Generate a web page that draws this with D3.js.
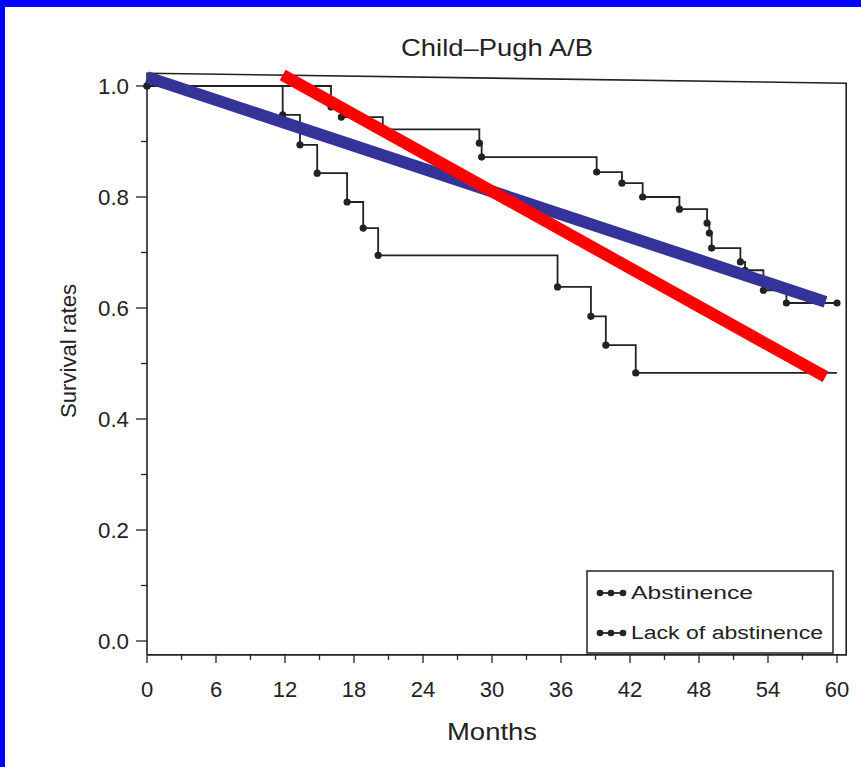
<!doctype html>
<html>
<head>
  <script src="https://d3js.org/d3.v7.min.js"></script>
  <style>
    body { margin: 0; background: #fff; }
    text { font-family: "Liberation Sans", Arial, sans-serif; fill: #222; }
  </style>
</head>
<body>
<script>

  // tick labels
  var monthTicks = [0, 6, 12, 18, 24, 30, 36, 42, 48, 54, 60];
  var rateTicks = [0, 0.2, 0.4, 0.6, 0.8, 1.0];

  // Abstinence (upper curve)
  var abstMonths = [0, 16.0, 16.9, 20.5, 28.9, 29.1, 39.1, 41.3, 43.1, 46.3, 48.7, 48.9, 49.1, 51.6, 52.0, 53.6, 55.6, 60];
  var abstRates  = [1.0, 0.962, 0.944, 0.922, 0.897, 0.872, 0.845, 0.825, 0.800, 0.778, 0.753, 0.735, 0.708, 0.683, 0.668, 0.632, 0.609, 0.609];

  // Lack of abstinence (lower curve)
  var lackMonths = [0, 11.8, 13.3, 14.8, 17.4, 18.8, 20.1, 35.7, 38.6, 39.9, 42.5, 60];
  var lackRates  = [1.0, 0.948, 0.894, 0.843, 0.791, 0.744, 0.695, 0.638, 0.585, 0.533, 0.483, 0.483];

  var legendLabels = ["Abstinence", "Lack of abstinence"];

  // hand drawn lines over the chart
  var blueLine = [[0, 1.016], [59.0, 0.611]];
  var redLine = [[11.8, 1.02], [59.0, 0.476]];

  var width = 861, height = 767;

  var svg = d3.select("body")
      .append("svg")
      .attr("width", width)
      .attr("height", height);

  // blue frame (left and top)
  svg.append("rect").attr("x", 0).attr("y", 0).attr("width", width).attr("height", 7).attr("fill", "#0000ff");
  svg.append("rect").attr("x", 0).attr("y", 0).attr("width", 5).attr("height", height).attr("fill", "#0000ff");

  var x = d3.scaleLinear().domain([0, 60]).range([147, 837]);
  var y = d3.scaleLinear().domain([0, 1]).range([641, 86]);

  var ink = "#222";

  // plot frame, the scan is a bit tilted so the top edge slopes
  var frame = [[0, -0.025], [0, 1.023], [60.8, 1.005], [60.8, -0.025], [0, -0.025]];
  svg.append("path")
      .attr("d", d3.line().x(function (d) { return x(d[0]); }).y(function (d) { return y(d[1]); })(frame))
      .attr("fill", "none")
      .attr("stroke", ink)
      .attr("stroke-width", 1.6);

  // y axis ticks
  var yMinor = d3.range(0, 1.01, 0.1);
  svg.selectAll(".ytick")
      .data(yMinor)
      .enter()
      .append("line")
      .attr("x1", function (d, i) { return x(0) - (i % 2 === 0 ? 11 : 6); })
      .attr("x2", x(0))
      .attr("y1", function (d) { return y(d); })
      .attr("y2", function (d) { return y(d); })
      .attr("stroke", ink)
      .attr("stroke-width", 1.3);

  svg.selectAll(".ylab")
      .data(rateTicks)
      .enter()
      .append("text")
      .attr("x", x(0) - 18)
      .attr("y", function (d) { return y(d); })
      .attr("dy", "0.36em")
      .attr("text-anchor", "end")
      .attr("font-size", 22)
      .attr("textLength", 31)
      .attr("lengthAdjust", "spacingAndGlyphs")
      .text(function (d) { return d.toFixed(1); });

  // x axis ticks every 3 months
  var bottom = y(-0.025);
  var xMinor = d3.range(0, 61, 3);
  svg.selectAll(".xtick")
      .data(xMinor)
      .enter()
      .append("line")
      .attr("x1", function (d) { return x(d); })
      .attr("x2", function (d) { return x(d); })
      .attr("y1", bottom)
      .attr("y2", function (d) { return bottom + (d % 6 === 0 ? 8 : 5); })
      .attr("stroke", ink)
      .attr("stroke-width", 1.3);

  svg.selectAll(".xlab")
      .data(monthTicks)
      .enter()
      .append("text")
      .attr("x", function (d) { return x(d); })
      .attr("y", 697)
      .attr("text-anchor", "middle")
      .attr("font-size", 22)
      .text(function (d) { return d; });

  // titles
  svg.append("text")
      .attr("x", 497).attr("y", 56)
      .attr("text-anchor", "middle")
      .attr("font-size", 24)
      .attr("textLength", 192)
      .attr("lengthAdjust", "spacingAndGlyphs")
      .text("Child\u2013Pugh A/B");

  svg.append("text")
      .attr("x", 492).attr("y", 740)
      .attr("text-anchor", "middle")
      .attr("font-size", 24)
      .attr("textLength", 90)
      .attr("lengthAdjust", "spacingAndGlyphs")
      .text("Months");

  svg.append("text")
      .attr("transform", "translate(76,351) rotate(-90)")
      .attr("text-anchor", "middle")
      .attr("font-size", 22)
      .attr("textLength", 134)
      .attr("lengthAdjust", "spacingAndGlyphs")
      .text("Survival rates");

  // survival curves
  var step = d3.line()
      .x(function (d) { return x(d[0]); })
      .y(function (d) { return y(d[1]); })
      .curve(d3.curveStepAfter);

  var series = [
    { pts: d3.zip(abstMonths, abstRates), dots: d3.zip(abstMonths, abstRates) },
    { pts: d3.zip(lackMonths, lackRates), dots: d3.zip(lackMonths, lackRates).slice(0, -1) }
  ];

  series.forEach(function (s) {
    svg.append("path")
        .attr("d", step(s.pts))
        .attr("fill", "none")
        .attr("stroke", ink)
        .attr("stroke-width", 1.8);

    svg.selectAll(null)
        .data(s.dots)
        .enter()
        .append("circle")
        .attr("cx", function (d) { return x(d[0]); })
        .attr("cy", function (d) { return y(d[1]); })
        .attr("r", 3.6)
        .attr("fill", ink);
  });

  // legend
  var lg = svg.append("g").attr("transform", "translate(587,571)");
  lg.append("rect")
      .attr("width", 246).attr("height", 82)
      .attr("fill", "#fff")
      .attr("stroke", ink)
      .attr("stroke-width", 1.5);

  var rows = lg.selectAll(".row")
      .data(legendLabels)
      .enter()
      .append("g")
      .attr("transform", function (d, i) { return "translate(0," + (22 + i * 40) + ")"; });

  rows.append("line")
      .attr("x1", 12).attr("x2", 37)
      .attr("stroke", ink).attr("stroke-width", 1.8);

  rows.selectAll("circle")
      .data([13, 24, 36])
      .enter()
      .append("circle")
      .attr("cx", function (d) { return d; })
      .attr("r", 3.3)
      .attr("fill", ink);

  rows.append("text")
      .attr("x", 44)
      .attr("dy", "0.36em")
      .attr("font-size", 18)
      .attr("textLength", function (d, i) { return i === 0 ? 122 : 192; })
      .attr("lengthAdjust", "spacingAndGlyphs")
      .text(function (d) { return d; });

  // overlay lines
  var seg = d3.line().x(function (d) { return x(d[0]); }).y(function (d) { return y(d[1]); });

  svg.append("path")
      .attr("d", seg(blueLine))
      .attr("stroke", "#333399")
      .attr("stroke-width", 12);

  svg.append("path")
      .attr("d", seg(redLine))
      .attr("stroke", "#ff0000")
      .attr("stroke-width", 12);

</script>
</body>
</html>
